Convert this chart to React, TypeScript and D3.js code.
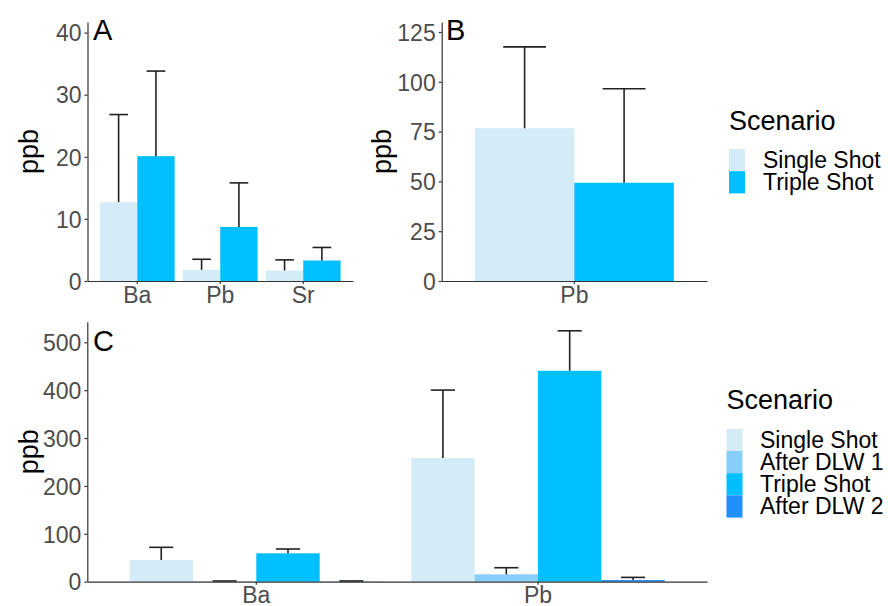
import React, { useRef, useEffect } from 'react';
import * as d3 from 'd3';

// Panel A
const elementsA = ['Ba', 'Pb', 'Sr'];
const singleA = [12.7, 1.8, 1.7];
const singleAsd = [14.1, 1.7, 1.7];
const tripleA = [20.1, 8.7, 3.3];
const tripleAsd = [13.7, 7.1, 2.1];
const ticksA = [0, 10, 20, 30, 40];

// Panel B
const elementsB = ['Pb'];
const singleB = [76.7];
const singleBsd = [40.8];
const tripleB = [49.3];
const tripleBsd = [47.2];
const ticksB = [0, 25, 50, 75, 100, 125];

// Panel C
const elementsC = ['Ba', 'Pb'];
const singleC = [45.3, 258.2];
const singleCsd = [26.5, 142];
const dlw1C = [0.5, 15.4];
const dlw1Csd = [1, 13.8];
const tripleC = [59.3, 440.5];
const tripleCsd = [9, 83.5];
const dlw2C = [0.5, 3.5];
const dlw2Csd = [1, 5.5];
const ticksC = [0, 100, 200, 300, 400, 500];

const scenariosAB = ['Single Shot', 'Triple Shot'];
const scenariosC = ['Single Shot', 'After DLW 1', 'Triple Shot', 'After DLW 2'];
const colors = {
  'Single Shot': '#d4ebf8',
  'After DLW 1': '#87cefa',
  'Triple Shot': '#00bfff',
  'After DLW 2': '#1e90ff',
};

const FONT = "'Liberation Sans', Arial, sans-serif";

const drawPanel = (svg, opts) => {
  const { left, right, top, bottom, yMax, ticks, cats, series, tag, titleX, capFrac } = opts;
  const g = svg.append('g');

  const x = d3
    .scaleBand()
    .domain(cats)
    .range([left, right])
    .paddingInner(0.1)
    .paddingOuter(0.15);
  const sub = d3
    .scaleBand()
    .domain(series.map((s) => s.name))
    .range([0, x.bandwidth()])
    .padding(0);
  const y = d3.scaleLinear().domain([0, yMax]).range([bottom, top]);

  // bars
  series.forEach((s) => {
    g.selectAll(null)
      .data(cats)
      .enter()
      .append('rect')
      .attr('x', (d) => x(d) + sub(s.name))
      .attr('y', (d, i) => y(s.values[i]))
      .attr('width', sub.bandwidth())
      .attr('height', (d, i) => y(0) - y(s.values[i]))
      .attr('fill', colors[s.name]);
  });

  // error bars, upper half only
  const capW = sub.bandwidth() * capFrac;
  series.forEach((s) => {
    cats.forEach((c, i) => {
      const cx = x(c) + sub(s.name) + sub.bandwidth() / 2;
      const yTop = y(s.values[i] + s.sd[i]);
      g.append('line')
        .attr('x1', cx)
        .attr('x2', cx)
        .attr('y1', y(s.values[i]))
        .attr('y2', yTop)
        .attr('stroke', '#222')
        .attr('stroke-width', 1.6);
      g.append('line')
        .attr('x1', cx - capW / 2)
        .attr('x2', cx + capW / 2)
        .attr('y1', yTop)
        .attr('y2', yTop)
        .attr('stroke', '#222')
        .attr('stroke-width', 1.6);
    });
  });

  // axes
  const yAxis = d3.axisLeft(y).tickValues(ticks).tickSize(3).tickSizeOuter(0).tickPadding(3);
  const xAxis = d3.axisBottom(x).tickSize(3).tickSizeOuter(0).tickPadding(3);

  const yg = g.append('g').attr('transform', `translate(${left},0)`).call(yAxis);
  const xg = g.append('g').attr('transform', `translate(0,${bottom})`).call(xAxis);

  [yg, xg].forEach((ax) => {
    ax.select('.domain').attr('stroke', '#333').attr('stroke-width', 1.2);
    ax.selectAll('.tick line').attr('stroke', '#333').attr('stroke-width', 1.2);
    ax.selectAll('.tick text')
      .attr('fill', '#4d4d4d')
      .style('font-family', FONT)
      .style('font-size', '23px');
  });
  yg.selectAll('.tick text').attr('dy', '0.36em');
  xg.selectAll('.tick text').attr('dy', '0.68em');

  // axis title
  g.append('text')
    .attr('transform', `translate(${titleX},${(top + bottom) / 2}) rotate(-90)`)
    .attr('text-anchor', 'middle')
    .attr('dy', '0.35em')
    .style('font-family', FONT)
    .style('font-size', '27px')
    .attr('fill', '#000')
    .text('ppb');

  // panel tag
  g.append('text')
    .attr('x', tag.x)
    .attr('y', tag.y)
    .style('font-family', FONT)
    .style('font-size', '29px')
    .attr('fill', '#000')
    .text(tag.label);
};

const drawLegend = (svg, x0, y0, names, textX) => {
  const g = svg.append('g');
  g.append('text')
    .attr('x', x0)
    .attr('y', y0)
    .style('font-family', FONT)
    .style('font-size', '27px')
    .attr('fill', '#000')
    .text('Scenario');
  const keyH = 22.2;
  names.forEach((n, i) => {
    const ky = y0 + 19.5 + i * keyH;
    g.append('rect')
      .attr('x', x0)
      .attr('y', ky)
      .attr('width', 16)
      .attr('height', keyH)
      .attr('fill', colors[n]);
    g.append('text')
      .attr('x', textX)
      .attr('y', ky + keyH / 2)
      .attr('dy', '0.34em')
      .style('font-family', FONT)
      .style('font-size', '23px')
      .attr('fill', '#000')
      .text(n);
  });
};

const ReplicatedChart = () => {
  const ref = useRef(null);

  useEffect(() => {
    const svg = d3.select(ref.current);
    svg.selectAll('*').remove();

    drawPanel(svg, {
      left: 87.5,
      right: 353,
      top: 22,
      bottom: 281,
      yMax: 41.7,
      ticks: ticksA,
      cats: elementsA,
      series: [
        { name: 'Single Shot', values: singleA, sd: singleAsd },
        { name: 'Triple Shot', values: tripleA, sd: tripleAsd },
      ],
      tag: { label: 'A', x: 93, y: 40 },
      titleX: 29,
      capFrac: 0.5,
    });

    drawPanel(svg, {
      left: 441.7,
      right: 707,
      top: 22,
      bottom: 281,
      yMax: 130,
      ticks: ticksB,
      cats: elementsB,
      series: [
        { name: 'Single Shot', values: singleB, sd: singleBsd },
        { name: 'Triple Shot', values: tripleB, sd: tripleBsd },
      ],
      tag: { label: 'B', x: 446, y: 40 },
      titleX: 382,
      capFrac: 0.43,
    });

    drawPanel(svg, {
      left: 87.3,
      right: 707,
      top: 321.7,
      bottom: 581.7,
      yMax: 543,
      ticks: ticksC,
      cats: elementsC,
      series: [
        { name: 'Single Shot', values: singleC, sd: singleCsd },
        { name: 'After DLW 1', values: dlw1C, sd: dlw1Csd },
        { name: 'Triple Shot', values: tripleC, sd: tripleCsd },
        { name: 'After DLW 2', values: dlw2C, sd: dlw2Csd },
      ],
      tag: { label: 'C', x: 93, y: 351 },
      titleX: 29,
      capFrac: 0.38,
    });

    drawLegend(svg, 729, 129.5, scenariosAB, 763);
    drawLegend(svg, 726.5, 409.3, scenariosC, 760);
  }, []);

  return (
    <svg
      ref={ref}
      width={888}
      height={606}
      style={{ position: 'absolute', left: 0, top: 0, background: '#fff' }}
    />
  );
};

export default function App() {
  return <ReplicatedChart />;
}
